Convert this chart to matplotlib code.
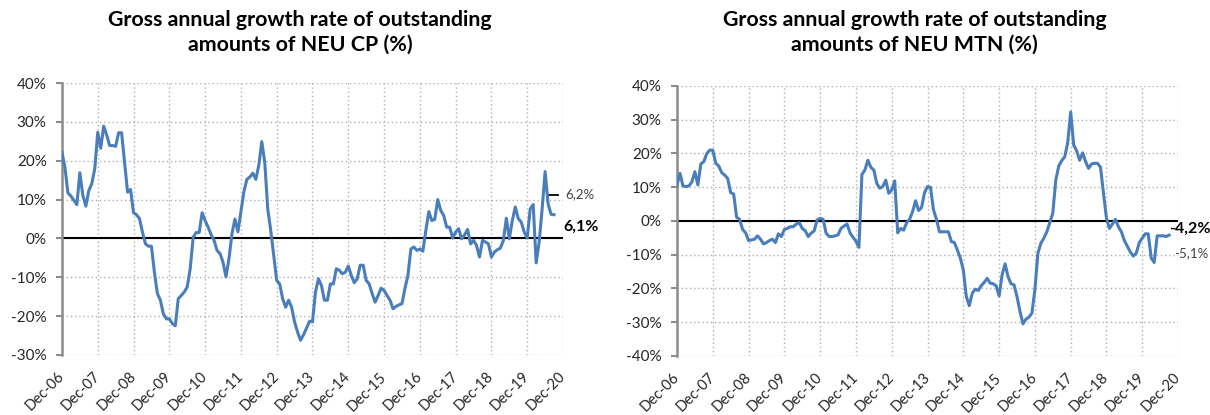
import numpy as np
import matplotlib
matplotlib.use('Agg')
from matplotlib import pyplot as plt

plt.rcParams['font.family'] = ['Lato', 'DejaVu Sans']

# Monthly values, Dec-06 to Sep-20 (%)
neu_cp = [22.2, 18.3, 11.7, 10.9, 9.8, 8.7, 16.9, 11.1, 8.3, 12.3, 14.1, 17.9,
          27.3, 23.2, 28.9, 26.6, 23.9, 23.9, 23.7, 27.2, 27.2, 19.6, 11.9, 12.6,
          6.6, 6.1, 5.1, 1.6, -1.4, -2.0, -2.0, -8.7, -14.2, -15.9, -19.4, -20.7,
          -20.7, -21.9, -22.5, -15.5, -14.7, -13.8, -12.5, -7.8, 0.3, 1.5, 1.5, 6.6,
          4.6, 2.9, 1.0, -0.5, -3.1, -3.9, -6.1, -9.9, -5.2, 1.2, 5.0, 1.7,
          6.8, 12.0, 15.2, 15.8, 16.8, 15.2, 18.8, 24.9, 19.6, 7.6, 2.1, -4.4,
          -10.8, -11.7, -15.5, -17.7, -15.9, -17.7, -21.5, -24.1, -26.2, -24.8, -23.1, -21.3,
          -21.5, -13.8, -10.4, -12.1, -15.9, -15.9, -11.7, -11.7, -7.8, -8.2, -9.1, -8.7,
          -7.1, -9.5, -11.4, -10.4, -6.9, -6.9, -10.8, -11.7, -14.2, -16.4, -14.7, -12.8,
          -13.4, -14.7, -15.9, -18.1, -17.5, -17.1, -16.8, -12.9, -9.5, -2.7, -2.2, -3.1,
          -2.7, -3.3, 2.0, 6.9, 4.6, 4.9, 10.0, 7.2, 5.9, 2.9, 2.9, 0.1,
          1.6, 2.5, -0.1, 0.9, 2.3, -1.4, -0.5, -1.8, -4.8, -0.5, -0.9, -1.4,
          -4.8, -3.5, -2.9, -2.5, -0.5, 5.2, -0.1, 4.6, 8.1, 5.1, 4.2, 1.6,
          0.1, 7.6, 8.7, -6.3, -0.9, 7.6, 17.2, 8.9, 6.2, 6.1]

neu_mtn = [10.6, 14.1, 10.4, 10.2, 10.4, 11.6, 14.6, 10.7, 16.9, 17.6, 20.0, 21.0,
           21.0, 17.1, 16.3, 14.3, 13.6, 12.6, 8.4, 8.0, 1.1, 0.5, -2.5, -3.5,
           -5.8, -5.6, -5.4, -4.4, -5.4, -6.8, -6.4, -5.8, -5.4, -6.4, -3.8, -4.6,
           -2.5, -2.2, -1.7, -1.7, -0.9, -0.5, -2.2, -2.9, -4.6, -3.6, -2.9, 0.3,
           0.8, 0.5, -3.6, -4.6, -4.6, -4.4, -4.1, -2.2, -1.5, -0.9, -3.5, -4.8,
           -6.0, -7.8, 13.8, 15.1, 18.0, 15.9, 15.1, 11.1, 9.7, 10.2, 12.1, 8.2,
           9.2, 11.9, -3.5, -2.2, -2.7, -0.5, 0.5, 2.8, 6.0, 3.1, 4.0, 8.4,
           10.2, 10.0, 3.3, 0.5, -3.2, -3.2, -3.2, -3.2, -6.1, -6.4, -8.6, -11.0,
           -14.5, -22.4, -25.1, -21.4, -20.2, -20.6, -19.2, -18.2, -17.0, -18.4, -18.6, -19.2,
           -22.2, -16.0, -12.7, -16.5, -18.6, -18.9, -22.4, -26.8, -30.5, -29.1, -28.5, -27.3,
           -20.4, -9.6, -6.6, -5.1, -3.2, -0.5, 2.3, 12.1, 16.3, 17.9, 19.0, 23.2,
           32.3, 22.5, 20.8, 18.0, 20.2, 17.6, 15.6, 16.9, 17.1, 17.1, 15.9, 8.2,
           0.8, -2.2, -0.9, 0.5, -1.7, -3.2, -5.8, -7.5, -9.2, -10.4, -9.5, -6.4,
           -5.1, -3.8, -3.8, -11.0, -12.3, -4.4, -4.4, -4.4, -4.6, -4.2]

anos = ['Dec-%02d' % a for a in range(6, 21)]
titulos = ['Gross annual growth rate of outstanding\namounts of NEU CP (%)',
           'Gross annual growth rate of outstanding\namounts of NEU MTN (%)']

azul = '#4a7ebb'

fig = plt.figure(figsize=(12.1, 4.15), dpi=100)
ax1 = fig.add_axes([0.0512, 0.1446, 0.4141, 0.6554])
ax2 = fig.add_axes([0.5595, 0.1422, 0.4141, 0.6506])

for ax, serie, ylim, titulo, tx in [(ax1, neu_cp, (-30, 40), titulos[0], 0.248),
                                    (ax2, neu_mtn, (-40, 40), titulos[1], 0.756)]:
    meses = np.arange(len(serie))
    ax.plot(meses, serie, color=azul, lw=2.2, zorder=3)
    ax.axhline(0, color='black', lw=1.5, zorder=2)
    ax.set_xlim(0, 168)
    ax.set_ylim(*ylim)
    ax.set_xticks(np.arange(0, 169, 12))
    ax.set_xticklabels(anos, rotation=45, ha='right', va='center',
                       rotation_mode='anchor', fontsize=10.5, color='#262626')
    yt = np.arange(ylim[0], ylim[1] + 1, 10)
    ax.set_yticks(yt)
    ax.set_yticklabels(['%d%%' % v for v in yt], fontsize=11, color='#262626')
    ax.grid(True, color='#b0b0b0', ls=(0, (1, 2)), lw=1)
    for s in ['top', 'right', 'bottom']:
        ax.spines[s].set_visible(False)
    ax.spines['left'].set_color('#8c8c8c')
    ax.spines['left'].set_linewidth(1.8)
    ax.tick_params(axis='y', length=4, width=1.5, color='#8c8c8c', pad=7)
    ax.tick_params(axis='x', length=0, pad=14)
    fig.text(tx, 0.975, titulo, ha='center', va='top', fontsize=15.4,
             fontweight='bold', linespacing=1.25)

# Rotulos dos ultimos valores
ax1.plot([163, 163, 166.3], [9.3, 11.3, 11.3], color='black', lw=1.3, clip_on=False)
ax1.text(168.8, 11.3, '6,2%', fontsize=9.5, color='#404040', va='center', clip_on=False)
ax1.text(168, 3.1, '6,1%', fontsize=11.5, fontweight='bold', va='center', clip_on=False)
ax2.text(164.9, -2.4, '-4,2%', fontsize=11.5, fontweight='bold', va='center', clip_on=False)
ax2.text(166.6, -9.5, '-5,1%', fontsize=9.5, color='#404040', va='center', clip_on=False)

fig.savefig('out.png', dpi=100)
